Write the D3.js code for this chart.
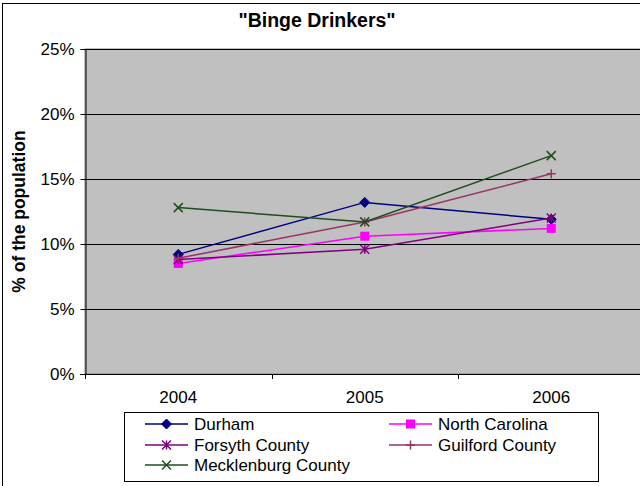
<!DOCTYPE html>
<html><head><meta charset="utf-8">
<script src="https://cdn.jsdelivr.net/npm/d3@7/dist/d3.min.js"></script>
<style>body{margin:0;background:#fff}svg{display:block;font-family:"Liberation Sans",Arial,sans-serif}</style>
</head><body><svg id="c" width="640" height="486"></svg>
<script>
const title = '"Binge Drinkers"';
const yTitle = "% of the population";
const categories = ["2004", "2005", "2006"];
const yTicks = [0, 5, 10, 15, 20, 25];
const seriesNames = ["Durham", "North Carolina", "Forsyth County", "Guilford County", "Mecklenburg County"];
const durham = [9.2, 13.2, 11.9];
const northCarolina = [8.5, 10.6, 11.2];
const forsyth = [8.8, 9.6, 12.0];
const guilford = [8.9, 11.7, 15.4];
const mecklenburg = [12.8, 11.7, 16.8];
const seriesColors = ["#000080", "#FF00FF", "#800080", "#993366", "#1E4D1E"];
const seriesMarkers = ["diamond", "square", "asterisk", "plus", "cross"];
const seriesValues = [durham, northCarolina, forsyth, guilford, mecklenburg];

const svg = d3.select("#c");
const m = {left: 85, right: 644.5, top: 49, bottom: 374};
const fs = 17;

// chart border
svg.append("rect").attr("x", 2.5).attr("y", 3.5).attr("width", 700).attr("height", 600)
  .attr("fill", "#fff").attr("stroke", "#000").attr("stroke-width", 1);

const x = d3.scaleBand().domain(categories).range([m.left, m.right]).padding(0);
const y = d3.scaleLinear().domain([0, 25]).range([m.bottom, m.top]);

// plot area
svg.append("rect").attr("x", m.left).attr("y", m.top).attr("width", m.right - m.left)
  .attr("height", m.bottom - m.top).attr("fill", "#C0C0C0").attr("stroke", "#808080");

// gridlines
svg.append("g").selectAll("line").data(yTicks.filter(d => d > 0)).join("line")
  .attr("x1", m.left).attr("x2", m.right)
  .attr("y1", d => Math.round(y(d)) + 0.5).attr("y2", d => Math.round(y(d)) + 0.5)
  .attr("stroke", "#000").attr("stroke-width", 1);

// y axis
const yAxis = d3.axisLeft(y).tickValues(yTicks).tickFormat(d => d + "%").tickSize(5).tickPadding(6);
const gy = svg.append("g").attr("transform", `translate(${m.left + 0.5},0)`).call(yAxis);
gy.select(".domain").attr("stroke", "#000");
gy.selectAll(".tick line").attr("stroke", "#000");
gy.selectAll("text").attr("font-size", fs).attr("fill", "#000").attr("font-family", "Liberation Sans, Arial");

// x axis: ticks between categories
const gx = svg.append("g");
gx.append("line").attr("x1", m.left - 5).attr("x2", m.right).attr("y1", m.bottom + 0.5).attr("y2", m.bottom + 0.5)
  .attr("stroke", "#000");
const bounds = categories.map(c => x(c)).concat([x(categories[categories.length - 1]) + x.bandwidth()]);
gx.selectAll("line.t").data(bounds).join("line").attr("class", "t")
  .attr("x1", d => Math.round(d) + 0.5).attr("x2", d => Math.round(d) + 0.5)
  .attr("y1", m.bottom).attr("y2", m.bottom + 5).attr("stroke", "#000");
gx.selectAll("text").data(categories).join("text")
  .attr("x", d => x(d) + x.bandwidth() / 2).attr("y", m.bottom + 29)
  .attr("text-anchor", "middle").attr("font-size", fs).text(d => d);

// titles
svg.append("text").attr("x", 317).attr("y", 27).attr("text-anchor", "middle")
  .attr("font-size", 19.5).attr("font-weight", "bold").text(title);
svg.append("text").attr("transform", `translate(25,${(m.top + m.bottom) / 2}) rotate(-90)`)
  .attr("text-anchor", "middle").attr("font-size", 17.5).attr("font-weight", "bold").text(yTitle);

function marker(g, type, color) {
  const s = 4.5;
  if (type === "diamond") {
    g.append("path").attr("d", `M0,${-s - 0.5}L${s + 0.5},0L0,${s + 0.5}L${-s - 0.5},0Z`).attr("fill", color).attr("stroke", color);
  } else if (type === "square") {
    g.append("rect").attr("x", -s).attr("y", -s).attr("width", 2 * s).attr("height", 2 * s).attr("fill", color);
  } else if (type === "asterisk") {
    g.append("path").attr("d", `M${-s},${-s}L${s},${s}M${-s},${s}L${s},${-s}M0,${-s}L0,${s}`)
      .attr("stroke", color).attr("stroke-width", 1.5).attr("fill", "none");
  } else if (type === "plus") {
    g.append("path").attr("d", `M${-s},0L${s},0M0,${-s}L0,${s}`)
      .attr("stroke", color).attr("stroke-width", 1.5).attr("fill", "none");
  } else if (type === "cross") {
    g.append("path").attr("d", `M${-s},${-s}L${s},${s}M${-s},${s}L${s},${-s}`)
      .attr("stroke", color).attr("stroke-width", 1.5).attr("fill", "none");
  }
}

const line = d3.line().x((d, i) => x(categories[i]) + x.bandwidth() / 2).y(d => y(d));
seriesValues.forEach((vals, si) => {
  const g = svg.append("g");
  g.append("path").attr("d", line(vals)).attr("fill", "none")
    .attr("stroke", seriesColors[si]).attr("stroke-width", 1.5);
  vals.forEach((v, i) => {
    const mg = g.append("g").attr("transform", `translate(${x(categories[i]) + x.bandwidth() / 2},${y(v)})`);
    marker(mg, seriesMarkers[si], seriesColors[si]);
  });
});

// legend
const lg = svg.append("g");
lg.append("rect").attr("x", 124.5).attr("y", 412.5).attr("width", 474).attr("height", 69)
  .attr("fill", "#fff").attr("stroke", "#000");
const colX = [145, 389];
const rowY = [424, 445, 465];
seriesNames.forEach((name, i) => {
  const cx = colX[i % 2], cy = rowY[Math.floor(i / 2)];
  const g = lg.append("g").attr("transform", `translate(${cx},${cy})`);
  g.append("line").attr("x1", 0).attr("x2", 43).attr("y1", 0).attr("y2", 0)
    .attr("stroke", seriesColors[i]).attr("stroke-width", 1.5);
  const mg = g.append("g").attr("transform", "translate(21.5,0)");
  marker(mg, seriesMarkers[i], seriesColors[i]);
  g.append("text").attr("x", 49).attr("y", 6).attr("font-size", fs).text(name);
});
</script></body></html>
